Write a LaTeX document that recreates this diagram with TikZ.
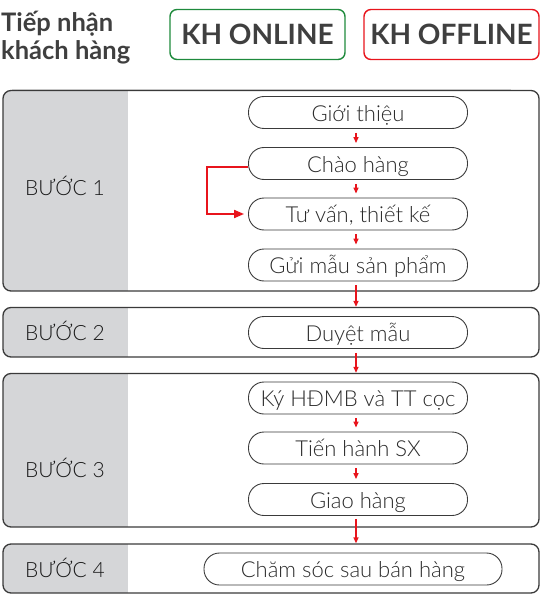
\documentclass[tikz,border=0pt]{standalone}
\usepackage{fontspec}
\setmainfont{Lato}
\newfontfamily\lightfont{Lato Light}
\usetikzlibrary{arrows.meta}
\definecolor{ink}{HTML}{2A2A2A}
\definecolor{hdr}{HTML}{3F3F3F}
\definecolor{panel}{HTML}{D5D6D8}
\definecolor{frameline}{HTML}{3A3A3A}
\definecolor{redline}{HTML}{E8141C}
\definecolor{greenline}{HTML}{1E8A3C}
\definecolor{rule}{HTML}{D9D9D9}
\tikzset{
  stepframe/.style={draw=frameline, line width=1.3pt, rounded corners=8pt, inner sep=0pt,
    minimum width=536pt,
    path picture={\fill[panel, sharp corners] (path picture bounding box.north west) rectangle ([xshift=125pt]path picture bounding box.south west);}},
  task/.style={draw=frameline, line width=0.9pt, rounded corners=15.5pt, minimum width=219pt,
    minimum height=32pt, inner sep=0pt, text height=17.5pt, text depth=0pt, text=ink,
    font=\lightfont\fontsize{22}{24}\selectfont},
  steplabel/.style={text=black!90, font=\lightfont\fontsize{21}{24}\selectfont, anchor=west,
    inner sep=0pt, text height=15.1pt, text depth=0pt},
  tag/.style={line width=1.4pt, rounded corners=7pt, minimum width=175pt, minimum height=50pt,
    inner sep=0pt, text height=20.2pt, text depth=0pt, text=hdr, font=\bfseries\fontsize{28}{30}\selectfont},
  titleline/.style={anchor=base west, inner sep=0pt, text=hdr, font=\bfseries\fontsize{25.5}{28}\selectfont},
  arr/.style={draw=redline, line width=1.4pt, -{Triangle[width=5pt,length=6pt]}},
  looparr/.style={draw=redline, line width=1.8pt, -{Triangle[width=8pt,length=10pt]}}
}
\begin{document}
\begin{tikzpicture}[x=1pt,y=-1pt]
\useasboundingbox (0,0) rectangle (541,596);
% header
\node[titleline] (title1) at (1,32) {Tiếp nhận};
\node[titleline] (title2) at (1,59.5) {khách hàng};
\node[tag, draw=greenline] (online) at (257.5,34.5) {KH ONLINE};
\node[tag, draw=redline] (offline) at (451.5,34.5) {KH OFFLINE};
\draw[rule, line width=0.8pt] (12,89) -- (511,89);
% step frames
\node[stepframe, minimum height=200.5pt] (s1) at (271,190.75) {};
\node[stepframe, minimum height=49.5pt] (s2) at (271,332.25) {};
\node[stepframe, minimum height=153.5pt] (s3) at (271,450.25) {};
\node[stepframe, minimum height=49pt] (s4) at (271,568.5) {};
% step labels
\node[steplabel] (l1) at (25,187.5) {BƯỚC 1};
\node[steplabel] (l2) at (25,332.5) {BƯỚC 2};
\node[steplabel] (l3) at (25,469.5) {BƯỚC 3};
\node[steplabel] (l4) at (25,569.5) {BƯỚC 4};
% tasks
\node[task] (g1) at (358,112.5) {Giới thiệu};
\node[task] (g2) at (358,163.5) {Chào hàng};
\node[task] (g3) at (358,214) {Tư vấn, thiết kế};
\node[task] (g4) at (358,265) {Gửi mẫu sản phẩm};
\node[task] (d1) at (358,332.5) {Duyệt mẫu};
\node[task] (k1) at (358,398) {Ký HĐMB và TT cọc};
\node[task] (k2) at (358,448) {Tiến hành SX};
\node[task] (k3) at (358,499.5) {Giao hàng};
\node[task, minimum width=298pt] (c1) at (353,569) {Chăm sóc sau bán hàng};
% arrows inside steps
\draw[arr, shorten <=4pt, shorten >=4pt] ([xshift=-2pt]g1.south) -- ([xshift=-2pt]g2.north);
\draw[arr, shorten <=4pt, shorten >=4pt] ([xshift=-2pt]g2.south) -- ([xshift=-2pt]g3.north);
\draw[arr, shorten <=4pt, shorten >=4pt] ([xshift=-2pt]g3.south) -- ([xshift=-2pt]g4.north);
\draw[arr, shorten <=4pt, shorten >=4pt] ([xshift=-2pt]k1.south) -- ([xshift=-2pt]k2.north);
\draw[arr, shorten <=4pt, shorten >=4pt] ([xshift=-2pt]k2.south) -- ([xshift=-2pt]k3.north);
\coordinate (loopstart) at ([yshift=-3.5pt]g2.west);
\draw[looparr, shorten >=4pt] (loopstart) -- ++(-41,0) |- (g3.west);
% arrows between steps
\draw[arr, shorten <=4pt] ([xshift=-2pt]g4.south) -- ([xshift=-2pt]g4.south |- s2.north);
\draw[arr, shorten <=4pt] ([xshift=-2pt]d1.south) -- ([xshift=-2pt]d1.south |- s3.north);
\draw[arr, shorten <=3pt] ([xshift=-2pt]k3.south) -- ([xshift=-2pt]k3.south |- s4.north);
\end{tikzpicture}
\end{document}
